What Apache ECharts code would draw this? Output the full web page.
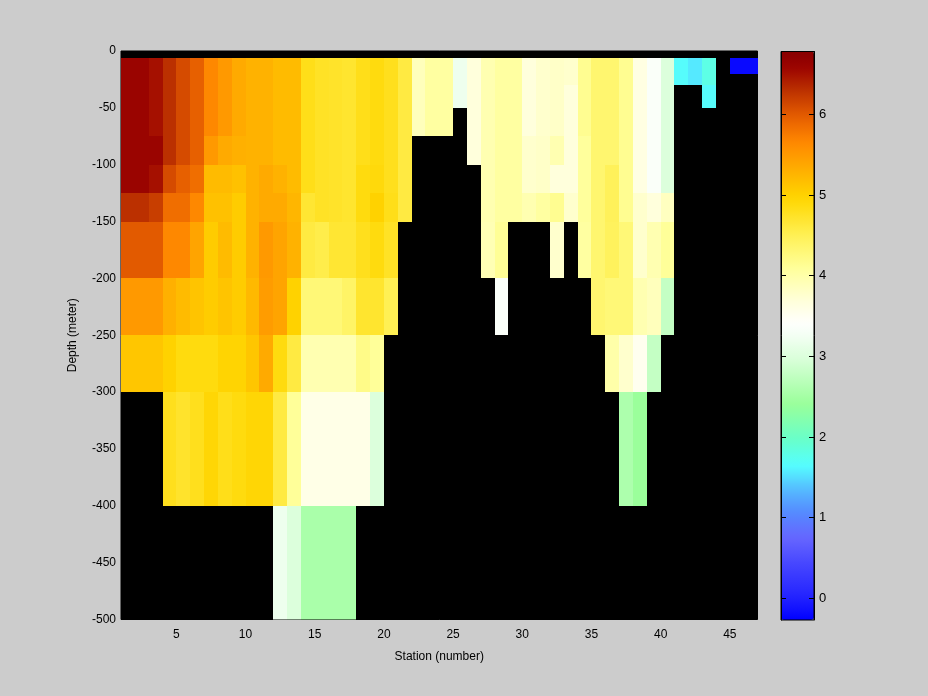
<!DOCTYPE html>
<html><head><meta charset="utf-8">
<script src="https://cdn.jsdelivr.net/npm/echarts@6/dist/echarts.min.js"></script>
<style>html,body{margin:0;padding:0;background:#cccccc}#c{width:928px;height:696px}</style>
</head><body><div id="c"></div>
<script>
// ---- data ----
const stations = [1,2,3,4,5,6,7,8,9,10,11,12,13,14,15,16,17,18,19,20,21,22,23,24,25,26,27,28,29,30,31,32,33,34,35,36,37,38,39,40,41,42,43,44,45,46];
const depthTop    = [-6, -20, -30, -50, -75, -100, -125, -150, -200, -250, -300, -400];
const depthBottom = [-20, -30, -50, -75, -100, -125, -150, -200, -250, -300, -400, -500];
const xTicks = [5,10,15,20,25,30,35,40,45];
const cbTicks = [0,1,2,3,4,5,6];
const N = null;
const temp_6_20   = [6.6,6.6,6.5,6.3,6.1,5.95,5.65,5.5,5.35,5.28,5.28,5.2,5.2,4.82,4.75,4.73,4.7,4.82,4.88,4.8,4.6,3.88,4.05,4.05,3.2,3.67,3.95,4.05,4.05,3.67,3.77,3.8,3.77,4.15,4.35,4.35,4.15,3.62,3.35,3.0,1.65,1.55,1.8,N,-0.2,-0.2];
const temp_20_30  = [6.6,6.6,6.5,6.3,6.1,5.95,5.65,5.5,5.35,5.28,5.28,5.2,5.2,4.82,4.75,4.73,4.7,4.82,4.88,4.8,4.6,3.88,4.05,4.05,3.2,3.67,3.95,4.05,4.05,3.67,3.77,3.8,3.77,4.15,4.35,4.35,4.15,3.62,3.35,3.0,1.65,1.55,1.8,N,N,N];
const temp_30_50  = [6.6,6.6,6.5,6.3,6.1,5.95,5.65,5.5,5.35,5.28,5.28,5.2,5.2,4.82,4.75,4.73,4.7,4.82,4.88,4.8,4.6,3.88,4.05,4.05,3.2,3.67,3.95,4.05,4.05,3.67,3.77,3.8,3.67,4.15,4.35,4.35,4.15,3.62,3.35,3.0,N,N,1.65,N,N,N];
const temp_50_75  = [6.6,6.6,6.5,6.3,6.1,5.95,5.65,5.5,5.35,5.28,5.28,5.2,5.2,4.82,4.75,4.73,4.7,4.82,4.88,4.8,4.6,3.88,4.05,4.05,N,3.67,3.95,4.05,4.05,3.67,3.77,3.8,3.67,4.15,4.35,4.35,4.15,3.62,3.35,3.0,N,N,N,N,N,N];
const temp_75_100 = [6.6,6.6,6.6,6.3,6.1,5.95,5.5,5.35,5.3,5.28,5.28,5.2,5.2,4.82,4.75,4.73,4.7,4.82,4.88,4.8,4.6,N,N,N,N,3.67,3.95,4.05,4.05,3.77,3.8,3.95,3.67,4.08,4.35,4.35,4.15,3.62,3.35,3.0,N,N,N,N,N,N];
const temp_100_125= [6.6,6.6,6.5,6.1,5.95,5.85,5.2,5.2,5.15,5.28,5.35,5.28,5.2,4.82,4.75,4.73,4.7,4.88,4.9,4.8,4.6,N,N,N,N,N,3.95,4.05,4.05,3.77,3.8,3.67,3.67,4.08,4.35,4.47,4.15,3.62,3.35,3.0,N,N,N,N,N,N];
const temp_125_150= [6.3,6.3,6.2,5.85,5.85,5.65,5.15,5.15,5.05,5.28,5.35,5.35,5.25,4.68,4.75,4.73,4.7,4.88,5.0,4.82,4.6,N,N,N,N,N,3.95,4.05,4.05,3.95,4.05,4.15,3.77,4.08,4.35,4.47,4.15,3.77,3.67,3.85,N,N,N,N,N,N];
const temp_150_200= [6.0,6.0,6.0,5.65,5.65,5.4,5.05,5.2,5.05,5.28,5.5,5.4,5.28,4.6,4.55,4.68,4.68,4.8,4.88,4.75,N,N,N,N,N,N,3.92,4.12,N,N,N,3.77,N,4.05,4.35,4.45,4.3,3.77,3.95,4.1,N,N,N,N,N,N];
const temp_200_250= [5.5,5.5,5.5,5.3,5.2,5.12,5.05,5.12,5.05,5.22,5.47,5.4,5.0,4.3,4.3,4.3,4.4,4.7,4.7,4.5,N,N,N,N,N,N,N,3.35,N,N,N,N,N,N,4.35,4.3,4.3,3.95,3.88,2.78,N,N,N,N,N,N];
const temp_250_300= [5.1,5.1,5.1,5.0,4.88,4.88,4.88,4.97,4.97,5.1,5.35,4.88,4.6,3.95,3.95,3.95,3.95,4.2,4.1,N,N,N,N,N,N,N,N,N,N,N,N,N,N,N,N,4.0,3.77,3.52,2.78,N,N,N,N,N,N,N];
const temp_300_400= [N,N,N,4.8,4.72,4.8,4.95,4.82,4.88,4.95,4.95,4.6,4.1,3.58,3.58,3.58,3.58,3.58,3.0,N,N,N,N,N,N,N,N,N,N,N,N,N,N,N,N,N,2.58,2.42,N,N,N,N,N,N,N,N];
const temp_400_500= [N,N,N,N,N,N,N,N,N,N,N,3.2,3.0,2.55,2.55,2.55,2.55,N,N,N,N,N,N,N,N,N,N,N,N,N,N,N,N,N,N,N,N,N,N,N,N,N,N,N,N,N];
const rows = [temp_6_20,temp_20_30,temp_30_50,temp_50_75,temp_75_100,temp_100_125,temp_125_150,temp_150_200,temp_200_250,temp_250_300,temp_300_400,temp_400_500];
const cMin = -0.27, cMax = 6.78;

// ---- colormap (style) ----
const cmapAnchors = [
 [-0.27,'#0000ff'],[0.0,'#2222ff'],[0.4,'#4444ff'],[0.75,'#6666ff'],[1.05,'#5588ff'],[1.35,'#55bbff'],
 [1.65,'#55ffff'],[1.95,'#66ffcc'],[2.4,'#99ff99'],[2.7,'#bbffbb'],[3.0,'#ddffdd'],[3.4,'#ffffff'],
 [3.7,'#ffffd8'],[4.1,'#ffff99'],[4.5,'#fff055'],[4.95,'#ffd700'],[5.3,'#ffb000'],[5.65,'#ff8800'],
 [5.95,'#e86000'],[6.3,'#bb3000'],[6.6,'#990000'],[6.78,'#880000']];
function hex2rgb(h){return [parseInt(h.substr(1,2),16),parseInt(h.substr(3,2),16),parseInt(h.substr(5,2),16)];}
function cmapAt(v){
  for(let i=0;i<cmapAnchors.length-1;i++){
    const a=cmapAnchors[i],b=cmapAnchors[i+1];
    if(v<=b[0]||i===cmapAnchors.length-2){
      const t=Math.max(0,Math.min(1,(v-a[0])/(b[0]-a[0])));
      const ca=hex2rgb(a[1]),cb=hex2rgb(b[1]);
      return 'rgb('+ca.map((c,j)=>Math.round(c+(cb[j]-c)*t)).join(',')+')';
    }
  }
}
const cmapColors=[];
for(let i=0;i<64;i++){cmapColors.push(cmapAt(cMin+(cMax-cMin)*i/63));}

// ---- build cells ----
const cells=[];
rows.forEach((r,ri)=>{
  r.forEach((v,ci)=>{
    if(v!==null) cells.push([stations[ci],stations[ci]+1,depthTop[ri],depthBottom[ri],v]);
  });
});

const font='Liberation Sans';
const chart=echarts.init(document.getElementById('c'),null,{renderer:'canvas'});
chart.setOption({
  backgroundColor:'#cccccc',
  animation:false,
  textStyle:{fontFamily:font},
  grid:[
    {left:121,top:51,width:636.5,height:568.5,show:true,backgroundColor:'#000',borderColor:'#000',borderWidth:1},
    {left:781,top:51.5,width:33,height:568.5,show:true,backgroundColor:'transparent',borderColor:'#000',borderWidth:1,z:10}
  ],
  xAxis:[
    {gridIndex:0,type:'value',min:1,max:47,
     axisLine:{show:false},axisTick:{show:false},splitLine:{show:false},
     axisLabel:{customValues:xTicks,color:'#000',fontSize:12,fontFamily:font,margin:9},
     name:'Station (number)',nameLocation:'middle',nameGap:31,
     nameTextStyle:{color:'#000',fontSize:12,fontFamily:font}},
    {gridIndex:1,type:'value',min:0,max:1,show:false}
  ],
  yAxis:[
    {gridIndex:0,type:'value',min:-500,max:0,interval:50,
     axisLine:{show:false},axisTick:{show:false},splitLine:{show:false},
     axisLabel:{color:'#000',fontSize:12,fontFamily:font,margin:5},
     name:'Depth (meter)',nameLocation:'middle',nameGap:42,
     nameTextStyle:{color:'#000',fontSize:12,fontFamily:font}},
    {gridIndex:1,type:'value',min:cMin,max:cMax,position:'right',z:11,
     axisLine:{show:true,onZero:false,lineStyle:{color:'#000'}},
     axisTick:{show:true,inside:true,length:5,customValues:cbTicks,lineStyle:{color:'#000'}},
     splitLine:{show:false},
     axisLabel:{customValues:cbTicks,color:'#000',fontSize:13,fontFamily:font,margin:5}},
    {gridIndex:1,type:'value',min:cMin,max:cMax,position:'left',z:11,
     axisLine:{show:true,onZero:false,lineStyle:{color:'#000'}},
     axisTick:{show:true,inside:true,length:5,customValues:cbTicks,lineStyle:{color:'#000'}},
     splitLine:{show:false},axisLabel:{show:false}}
  ],
  visualMap:{
    type:'continuous',min:cMin,max:cMax,dimension:4,seriesIndex:0,
    orient:'vertical',left:781,top:51.5,itemWidth:33,itemHeight:568.5,padding:0,
    calculable:false,text:null,showLabel:false,hoverLink:false,
    inRange:{color:cmapColors}
  },
  series:[{
    type:'custom',xAxisIndex:0,yAxisIndex:0,clip:true,
    encode:{x:[0,1],y:[2,3]},
    data:cells,
    renderItem:function(params,api){
      const p0=api.coord([api.value(0),api.value(2)]);
      const p1=api.coord([api.value(1),api.value(3)]);
      const x0=Math.round(p0[0]),x1=Math.round(p1[0]),y0=Math.round(p0[1]),y1=Math.round(p1[1]);
      return {type:'rect',shape:{x:x0,y:y0,width:x1-x0,height:y1-y0},
        style:{fill:api.visual('color'),stroke:null}};
    }
  }]
});
</script>
</body></html>
